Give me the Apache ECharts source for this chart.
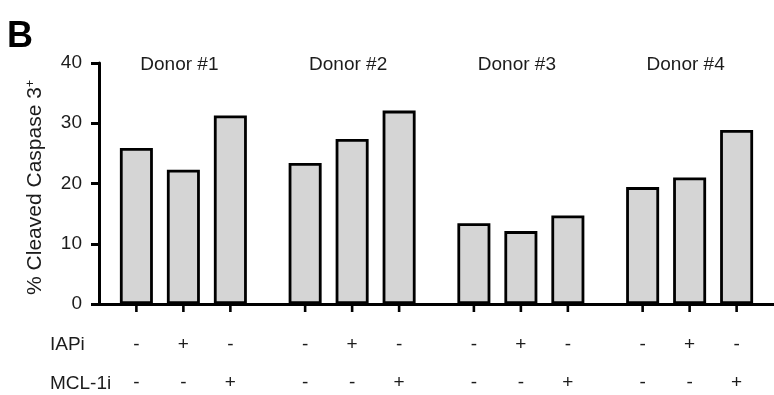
<!DOCTYPE html>
<html>
<head>
<meta charset="utf-8">
<script src="https://cdn.jsdelivr.net/npm/echarts@6/dist/echarts.min.js"></script>
<style>
  html, body { margin: 0; padding: 0; background: #fff; }
  #chart { width: 774px; height: 395px; }
</style>
</head>
<body>
<div id="chart"></div>
<script>
// Donors on the x axis, one bar per treatment condition
const donors = ['Donor #1', 'Donor #2', 'Donor #3', 'Donor #4'];
const conditionNames = ['Control', 'IAPi', 'MCL-1i'];

// % cleaved caspase 3+ cells for each condition
const controlValues = [25.9, 23.4, 13.4, 19.4];
const iapiValues = [22.3, 27.4, 12.1, 21.0];
const mcl1iValues = [31.3, 32.1, 14.7, 28.9];

// Treatment markers printed under each bar
const iapiSigns = ['-', '+', '-'];
const mcl1iSigns = ['-', '-', '+'];

const yTicks = { min: 0, max: 40, interval: 10 };

const FONT = 'Liberation Sans';
const TEXT = '#1c1c1c';

const seriesValues = [controlValues, iapiValues, mcl1iValues];

const chart = echarts.init(document.getElementById('chart'), null, { renderer: 'canvas' });

const barSeries = seriesValues.map((vals, i) => ({
  name: conditionNames[i],
  type: 'bar',
  xAxisIndex: 0,
  data: vals,
  barWidth: 33,
  barGap: '42.4%',
  itemStyle: { color: '#d5d5d5', borderColor: '#000', borderWidth: 2.8 },
  label: {
    show: true,
    position: 'bottom',
    distance: 0,
    formatter: () => '{tick| }\n{gap| }\n{sg|' + iapiSigns[i] + '}\n{sg|' + mcl1iSigns[i] + '}',
    rich: {
      tick: { width: 2.6, height: 8, lineHeight: 8, backgroundColor: '#000', fontSize: 1 },
      gap: { height: 14, lineHeight: 14, fontSize: 1 },
      sg: { fontFamily: FONT, fontSize: 19, color: TEXT, lineHeight: 38, align: 'center' }
    }
  },
  emphasis: { disabled: true },
  animation: false
}));

chart.setOption({
  animation: false,
  grid: { left: 99, top: 63, width: 688, height: 241, containLabel: false },
  xAxis: [
    {
      type: 'category',
      data: donors,
      position: 'bottom',
      axisLine: { show: true, lineStyle: { color: '#000', width: 3 } },
      axisTick: { show: false },
      axisLabel: { show: false },
      splitLine: { show: false }
    },
    {
      type: 'category',
      data: donors,
      position: 'top',
      axisLine: { show: false },
      axisTick: { show: false },
      splitLine: { show: false },
      axisLabel: {
        fontFamily: FONT, fontSize: 19, color: TEXT,
        margin: -2, verticalAlign: 'middle', padding: [0, 8, 0, 0]
      }
    }
  ],
  yAxis: {
    type: 'value',
    min: yTicks.min,
    max: yTicks.max,
    interval: yTicks.interval,
    name: '% Cleaved Caspase 3{sup|+}',
    nameLocation: 'middle',
    nameGap: 53,
    nameRotate: 90,
    nameTextStyle: {
      fontFamily: FONT, fontSize: 21, color: TEXT, padding: [0, 8, 0, 0],
      rich: { sup: { fontFamily: FONT, fontSize: 12, color: TEXT, verticalAlign: 'top', padding: [0, 0, 9, 0] } }
    },
    axisLine: { show: true, lineStyle: { color: '#000', width: 3 } },
    axisTick: { show: true, length: 8, lineStyle: { color: '#000', width: 3 } },
    axisLabel: { fontFamily: FONT, fontSize: 19, color: TEXT, margin: 17 },
    splitLine: { show: false }
  },
  graphic: [
    { type: 'text', left: 7, top: 19, style: { text: 'B', font: 'bold 36px "Liberation Sans"', fill: '#000' } },
    { type: 'text', left: 50, top: 335, style: { text: 'IAPi', font: '19px "Liberation Sans"', fill: TEXT } },
    { type: 'text', left: 50, top: 374, style: { text: 'MCL-1i', font: '19px "Liberation Sans"', fill: TEXT } }
  ],
  series: barSeries
});
</script>
</body>
</html>
